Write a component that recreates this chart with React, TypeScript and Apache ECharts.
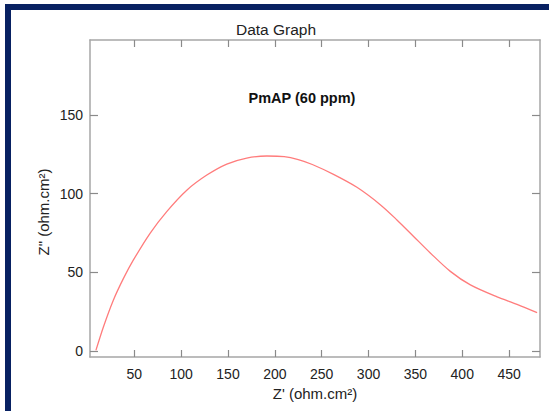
import React, { useEffect, useRef } from "react";
import * as echarts from "echarts";

const zReal = [9, 17, 27.6, 38.3, 48.9, 66.8, 84.6, 106, 127.4, 148.7, 170, 191.5, 210, 225, 240, 262.6, 287.6, 312.5, 330.3, 348.1, 365.9, 387.3, 408.7, 437.2, 458.5, 479.9];
const zImag = [0.4, 15.3, 32.3, 46, 57.7, 74.8, 88.6, 102.2, 111.8, 118.8, 122.6, 123.9, 123.5, 121.6, 118.5, 112.2, 104, 93, 83.3, 72.8, 62.3, 50.6, 42, 34.4, 29.7, 24.4];
const xTicks = [50, 100, 150, 200, 250, 300, 350, 400, 450];
const yTicks = [0, 50, 100, 150];

const FONT = 'Arial, "Liberation Sans", sans-serif';
const FRAME = "#a6a6a6";
const TICK = "#8a8a8a";

export default function App() {
  const ref = useRef<HTMLDivElement>(null);
  useEffect(() => {
    if (!ref.current) return;
    const chart = echarts.init(ref.current, undefined, { renderer: "svg" });
    const data = zReal.map((x, i) => [x, zImag[i]]);
    const xBase = {
      type: "value" as const,
      min: 2.7,
      max: 483,
      splitLine: { show: false },
      axisLine: { show: true, onZero: false, lineStyle: { color: FRAME, width: 1.5 } },
      axisTick: { show: true, inside: true, length: 7, customValues: xTicks, lineStyle: { color: TICK, width: 1.2 } },
    };
    const yBase = {
      type: "value" as const,
      min: -3.8,
      max: 197.6,
      splitLine: { show: false },
      axisLine: { show: true, onZero: false, lineStyle: { color: FRAME, width: 1.5 } },
      axisTick: { show: true, inside: true, length: 8, customValues: yTicks, lineStyle: { color: TICK, width: 1.2 } },
    };
    chart.setOption({
      animation: false,
      grid: { left: 90, top: 40, right: 9, bottom: 54 },
      xAxis: [
        {
          ...xBase,
          position: "bottom",
          name: "Z' (ohm.cm²)",
          nameLocation: "middle",
          nameGap: 25,
          nameTextStyle: { fontFamily: FONT, fontSize: 15, color: "#222" },
          axisLabel: { show: true, customValues: xTicks, margin: 10, fontFamily: FONT, fontSize: 14, color: "#222" },
        },
        { ...xBase, position: "top", axisLabel: { show: false } },
      ],
      yAxis: [
        {
          ...yBase,
          position: "left",
          axisLabel: { show: true, customValues: yTicks, margin: 7, fontFamily: FONT, fontSize: 14, color: "#222" },
        },
        { ...yBase, position: "right", axisLabel: { show: false } },
      ],
      graphic: [
        {
          type: "text",
          x: 276,
          y: 29,
          style: { text: "Data Graph", fontFamily: FONT, fontSize: 15.5, fill: "#222", textAlign: "center", textVerticalAlign: "middle" },
        },
        {
          type: "text",
          x: 302,
          y: 98,
          style: { text: "PmAP (60 ppm)", fontFamily: FONT, fontSize: 14.5, fontWeight: "bold", fill: "#111", textAlign: "center", textVerticalAlign: "middle" },
        },
        {
          type: "text",
          x: 43,
          y: 212,
          rotation: Math.PI / 2,
          style: { text: 'Z" (ohm.cm²)', fontFamily: FONT, fontSize: 15, fill: "#222", textAlign: "center", textVerticalAlign: "middle" },
        },
      ],
      series: [
        {
          type: "line",
          data,
          xAxisIndex: 0,
          yAxisIndex: 0,
          smooth: 0.3,
          showSymbol: false,
          lineStyle: { color: "#ff7c7c", width: 1.3 },
        },
      ],
    });
    return () => chart.dispose();
  }, []);
  return (
    <div style={{ position: "fixed", left: 0, top: 0, width: 549, height: 411, background: "#fff", overflow: "hidden" }}>
      <div style={{ position: "absolute", left: 5, top: 4, width: 600, height: 500, background: "#082162" }} />
      <div style={{ position: "absolute", left: 11, top: 10, width: 600, height: 500, background: "#fff" }} />
      <div ref={ref} style={{ position: "absolute", left: 0, top: 0, width: 549, height: 411 }} />
    </div>
  );
}
